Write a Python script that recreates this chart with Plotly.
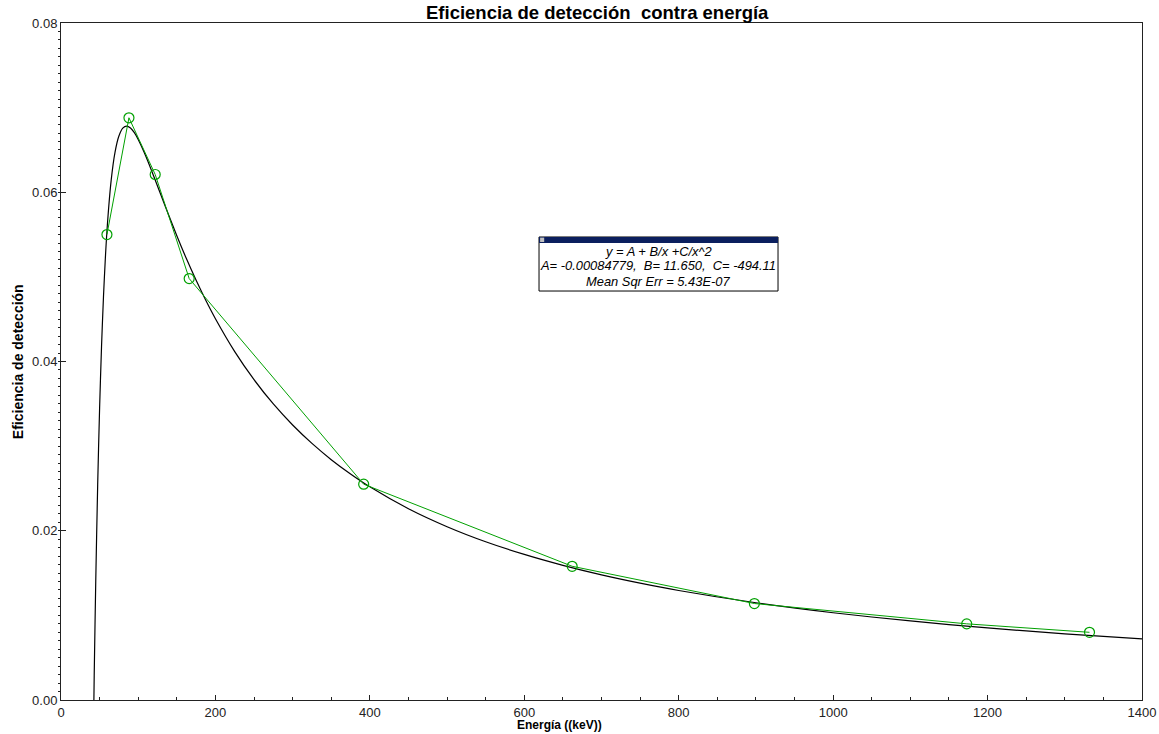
import plotly.graph_objects as go

# Measured points (energy keV, efficiency)
energy = [59.5, 88, 122, 166, 392, 662, 898, 1173, 1332]
efficiency = [0.0550, 0.0688, 0.0621, 0.0498, 0.0255, 0.0158, 0.0114, 0.0090, 0.0080]

# Fitted curve (y = A + B/x + C/x^2)
fit_energy = [42.6, 43, 45, 47.5, 50, 52.5, 55, 57.5, 60, 65, 70, 75, 80, 85, 90, 95, 100, 110,
              120, 135, 150, 162.5, 175, 187.5, 200, 225, 250, 275, 300, 325, 350, 375, 400, 450,
              500, 550, 600, 650, 700, 750, 800, 900, 1000, 1100, 1200, 1300, 1400]
fit_eff = [0.0, 0.00285, 0.01404, 0.02542, 0.03451, 0.04179, 0.04763, 0.05231, 0.05607,
           0.06143, 0.06474, 0.06664, 0.06757, 0.06782, 0.06760, 0.06704, 0.06624, 0.06423,
           0.06192, 0.05834, 0.05486, 0.05213, 0.04959, 0.04723, 0.04505, 0.04117, 0.03785,
           0.03498, 0.03250, 0.03032, 0.02840, 0.02671, 0.02519, 0.02260, 0.02048, 0.01870,
           0.01720, 0.01591, 0.01479, 0.01381, 0.01294, 0.01149, 0.01031, 0.00934, 0.00852,
           0.00782, 0.00722]

title_text = "Eficiencia de detección  contra energía"
x_title = "Energía ((keV))"
y_title = "Eficiencia de detección"
fit_lines = ["y = A + B/x +C/x^2",
             "A= -0.00084779,  B= 11.650,  C= -494.11",
             "Mean Sqr Err = 5.43E-07"]

FONT = "Liberation Sans, Arial, sans-serif"

fig = go.Figure()
fig.add_trace(go.Scatter(x=fit_energy, y=fit_eff, mode="lines",
                         line=dict(color="#000000", width=1.2, shape="spline", smoothing=0.8),
                         hoverinfo="skip"))
fig.add_trace(go.Scatter(x=energy, y=efficiency, mode="lines+markers",
                         line=dict(color="#00a000", width=1),
                         marker=dict(symbol="circle-open", size=10, color="#00a000",
                                     line=dict(width=1.2, color="#00a000"))))

axis_common = dict(showgrid=False, zeroline=False, showline=True, linecolor="#222222",
                   linewidth=1, mirror=True, automargin=False,
                   tickfont=dict(family=FONT, size=13, color="#222222"))

fig.update_xaxes(range=[0, 1400], tickvals=[0, 200, 400, 600, 800, 1000, 1200, 1400],
                 ticks="inside", ticklen=5, tickcolor="#222222",
                 minor=dict(dtick=50, ticks="inside", ticklen=3, tickcolor="#222222"),
                 **axis_common)
fig.update_yaxes(range=[0, 0.08], tickvals=[0, 0.02, 0.04, 0.06, 0.08], tickformat=".2f",
                 ticks="inside", ticklen=5, tickcolor="#222222",
                 minor=dict(dtick=0.001, ticks="outside", ticklen=2, tickcolor="#222222"),
                 **axis_common)

shapes = [
    dict(type="rect", xref="paper", yref="paper", x0=0.4422, x1=0.6633, y0=0.6041, y1=0.6839,
         line=dict(color="#000000", width=1), fillcolor="#ffffff", layer="above"),
    dict(type="rect", xref="paper", yref="paper", x0=0.4422, x1=0.6633, y0=0.6750, y1=0.6839,
         line=dict(width=0), fillcolor="#0b1f5e", layer="above"),
    dict(type="rect", xref="paper", yref="paper", x0=0.4432, x1=0.4470, y0=0.6765, y1=0.6830,
         line=dict(width=0), fillcolor="#c0c0c0", layer="above"),
]

annotations = [
    dict(text=f"<b>{title_text}</b>", xref="paper", yref="paper", x=0.4963, y=1.0, yanchor="bottom",
         yshift=-2, showarrow=False, font=dict(family=FONT, size=18.5, color="#000000")),
    dict(text=f"<b>{x_title}</b>", xref="paper", yref="paper", x=0.4616, y=0, yanchor="top",
         yshift=-16, showarrow=False, font=dict(family=FONT, size=12, color="#000000")),
    dict(text=f"<b>{y_title}</b>", xref="paper", yref="paper", x=0, y=0.499, xanchor="center",
         xshift=-43, textangle=-90, showarrow=False, font=dict(family=FONT, size=14, color="#000000")),
]
line_y = [0.6632, 0.6411, 0.6189]
for t, yy in zip(fit_lines, line_y):
    annotations.append(dict(text=f"<i>{t}</i>", xref="paper", yref="paper", x=0.5527, y=yy,
                            showarrow=False, font=dict(family=FONT, size=12.9, color="#000000")))

fig.update_layout(width=1159, height=734, margin=dict(l=61, r=17, t=23, b=34, autoexpand=False),
                  paper_bgcolor="#ffffff", plot_bgcolor="#ffffff", showlegend=False,
                  shapes=shapes, annotations=annotations)

# remove the browser's default body margin so the figure fills the window exactly
fig.write_html("out.html", config={"displayModeBar": False},
               post_script="document.body.style.margin='0';document.body.style.overflow='hidden';")
